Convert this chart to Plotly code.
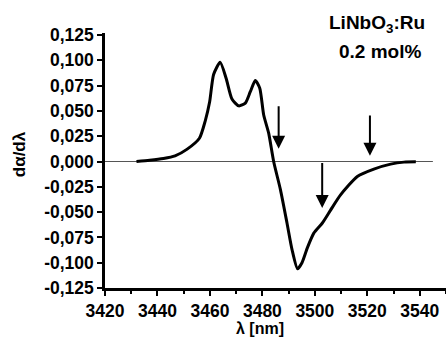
import plotly.graph_objects as go

# ---- data ----
wavelength = [3432.0, 3437.0, 3442.3, 3446.7, 3451.2, 3456.0, 3458.2, 3459.9, 3461.4,
              3463.9, 3466.2, 3468.4, 3471.0, 3473.5, 3475.4, 3477.3, 3479.0, 3480.5,
              3482.4, 3484.3, 3486.9, 3489.4, 3491.3, 3493.4, 3495.1, 3497.1, 3499.6,
              3502.8, 3506.0, 3509.8, 3516.2, 3522.5, 3528.9, 3534.0, 3538.5]
dalpha = [0.000, 0.0012, 0.003, 0.0056, 0.012, 0.023, 0.040, 0.059, 0.086,
          0.098, 0.082, 0.0617, 0.055, 0.0577, 0.069, 0.080, 0.0725, 0.046,
          0.028, 0.000, -0.028, -0.061, -0.087, -0.106, -0.100, -0.0856, -0.0708,
          -0.061, -0.048, -0.033, -0.0148, -0.0075, -0.0026, -0.0006, -0.0003]

baseline_x = [3420, 3545]
baseline_y = [0, 0]

# arrows: x position, start (top) and tip values
arrow_x = [3486.2, 3502.8, 3521.0]
arrow_top = [0.056, 0.000, 0.047]
arrow_tip = [0.0125, -0.046, 0.0056]

x_tickvals = [3420, 3440, 3460, 3480, 3500, 3520, 3540]
x_ticktext = ["3420", "3440", "3460", "3480", "3500", "3520", "3540"]
y_tickvals = [0.125, 0.100, 0.075, 0.050, 0.025, 0.000, -0.025, -0.050, -0.075, -0.100, -0.125]
y_ticktext = ["0,125", "0,100", "0,075", "0,050", "0,025", "0,000",
              "-0,025", "-0,050", "-0,075", "-0,100", "-0,125"]

FONT = "Arial, Liberation Sans, Helvetica, sans-serif"
TICK_FONT = dict(family=FONT, size=17.5, color="black", weight="bold")

fig = go.Figure()
fig.add_trace(go.Scatter(x=baseline_x, y=baseline_y, mode="lines",
                         line=dict(color="#555555", width=1), hoverinfo="skip"))
fig.add_trace(go.Scatter(x=wavelength, y=dalpha, mode="lines",
                         line=dict(color="black", width=3, shape="spline", smoothing=0.6)))

annotations = []
for xa, yt, yh in zip(arrow_x, arrow_top, arrow_tip):
    annotations.append(dict(x=xa, y=yh, ax=xa, ay=yt, xref="x", yref="y",
                            axref="x", ayref="y", showarrow=True, arrowhead=2,
                            arrowsize=1.3, arrowwidth=2, arrowcolor="black", text=""))

annotations += [
    dict(text="LiNbO<sub>3</sub>:Ru", x=0.797, y=1.035, xref="paper", yref="paper",
         showarrow=False, font=dict(family=FONT, size=19, color="black", weight="bold"),
         xanchor="center", yanchor="middle"),
    dict(text="0.2 mol%", x=0.806, y=0.927, xref="paper", yref="paper",
         showarrow=False, font=dict(family=FONT, size=19, color="black", weight="bold"),
         xanchor="center", yanchor="middle"),
    dict(text="λ [nm]", x=0.4545, y=-0.158, xref="paper", yref="paper",
         showarrow=False, font=dict(family=FONT, size=16, color="black", weight="bold"),
         xanchor="center", yanchor="middle"),
    dict(text="dα/dλ", x=-0.252, y=0.525, xref="paper", yref="paper", textangle=-90,
         showarrow=False, font=dict(family=FONT, size=17, color="black", weight="bold"),
         xanchor="center", yanchor="middle"),
]

fig.update_layout(
    width=446, height=342,
    margin=dict(l=105, r=0, t=33, b=54),
    paper_bgcolor="white", plot_bgcolor="white",
    showlegend=False,
    annotations=annotations,
    font=dict(family=FONT, color="black"),
)
fig.update_xaxes(range=[3420, 3550], tickvals=x_tickvals, ticktext=x_ticktext,
                 showline=True, linecolor="black", linewidth=2.5,
                 ticks="outside", ticklen=5, tickwidth=2, tickcolor="black",
                 minor=dict(dtick=10, tick0=3420, ticks="outside", ticklen=3, tickwidth=2, tickcolor="black"),
                 showgrid=False, zeroline=False, tickfont=TICK_FONT)
fig.update_yaxes(range=[-0.125, 0.127], tickvals=y_tickvals, ticktext=y_ticktext,
                 showline=True, linecolor="black", linewidth=2.5,
                 ticks="outside", ticklen=5, tickwidth=2, tickcolor="black",
                 showgrid=False, zeroline=False, tickfont=TICK_FONT)

fig.write_html("out.html")
